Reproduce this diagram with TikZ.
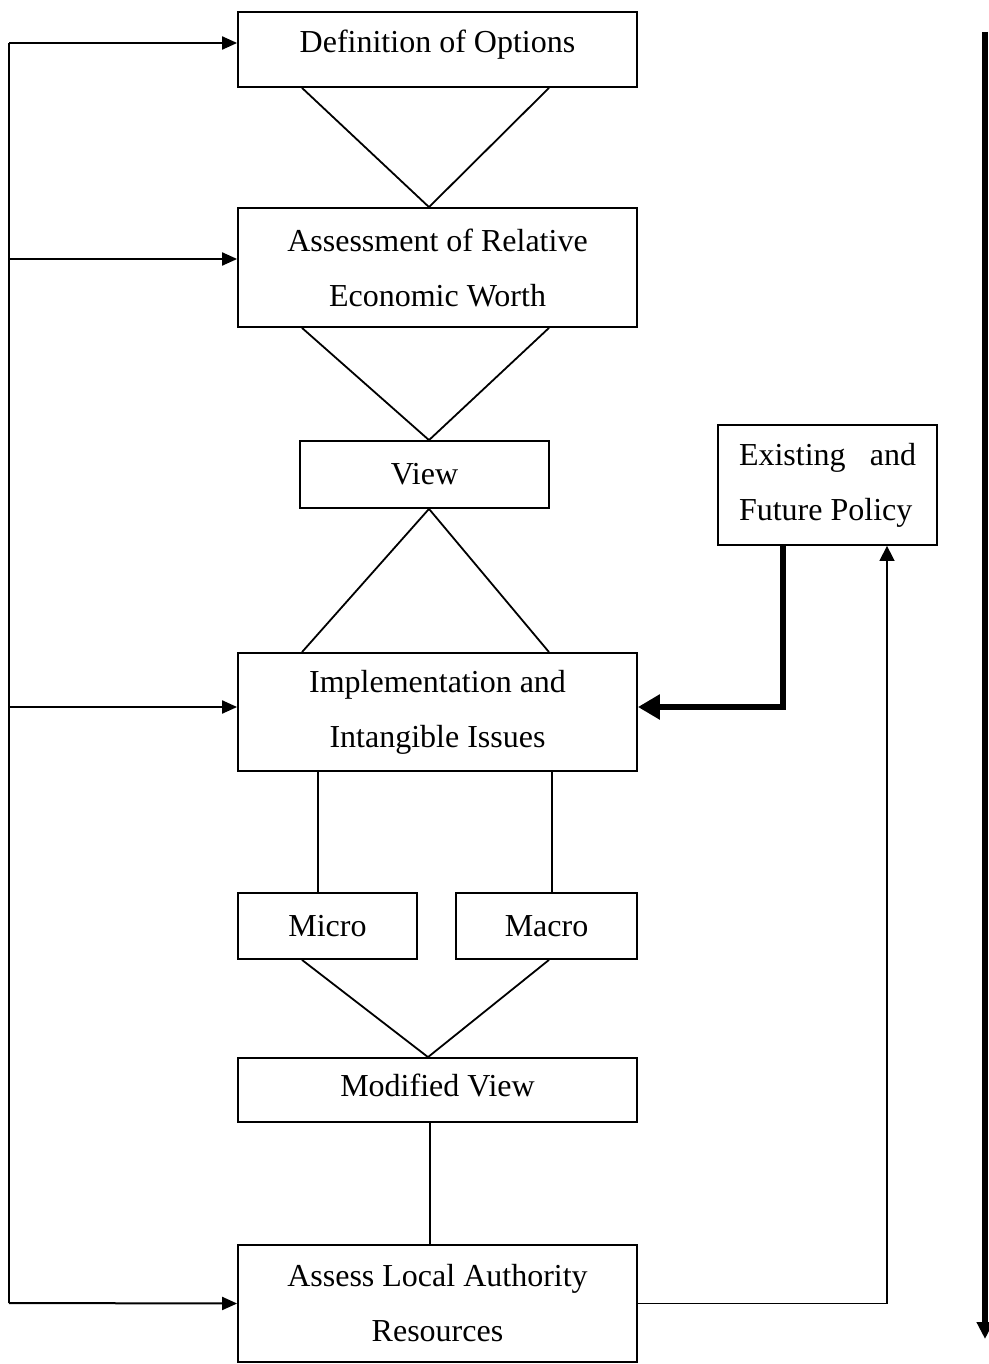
\documentclass[tikz,border=0pt]{standalone}
\usepackage{fontspec}
\setmainfont{Liberation Serif}
\usetikzlibrary{arrows.meta}
\begin{document}
\begin{tikzpicture}[x=1pt,y=-1pt,
  box/.style={draw, line width=1.8pt, inner sep=0pt, align=center,
    font=\fontsize{32}{55}\selectfont},
  link/.style={line width=1.8pt},
  fb/.style={line width=2pt, -{Triangle[length=15pt,width=13pt]}},
  loop/.style={line width=1.5pt, -{Triangle[length=15pt,width=15pt]}},
  policyarrow/.style={line width=6pt, -{Triangle[length=22pt,width=24pt]}},
  flow/.style={line width=6pt, -{Triangle[length=17pt,width=16pt]}}]
\useasboundingbox (0,0) rectangle (988,1364);

% boxes
\node[box, minimum width=399pt, minimum height=75pt, text depth=17pt] (def) at (437.5,49.5) {Definition of Options};
\node[box, minimum width=399pt, minimum height=119pt] (assess) at (437.5,267.5) {Assessment of Relative\\Economic Worth};
\node[box, minimum width=249pt, minimum height=67pt] (view) at (424.5,474.5) {View};
\node[box, minimum width=219pt, minimum height=120pt, align=left] (policy) at (827.5,485) {\makebox[177pt][s]{Existing and}\\Future Policy};
\node[box, minimum width=399pt, minimum height=118pt] (impl) at (437.5,712) {Implementation and\\Intangible Issues};
\node[box, minimum width=179pt, minimum height=66pt] (micro) at (327.5,926) {Micro};
\node[box, minimum width=181pt, minimum height=66pt] (macro) at (546.5,926) {Macro};
\node[box, minimum width=399pt, minimum height=64pt, text depth=10pt] (modv) at (437.5,1090) {Modified View};
\node[box, minimum width=399pt, minimum height=117pt] (local) at (437.5,1303.5) {Assess Local Authority\\Resources};

% funnels between the stages
\draw[link] ([xshift=-135.5pt]def.south) -- ([xshift=-8.5pt]assess.north);
\draw[link] ([xshift=111.5pt]def.south) -- ([xshift=-8.5pt]assess.north);
\draw[link] ([xshift=-135.5pt]assess.south) -- ([xshift=4.5pt]view.north);
\draw[link] ([xshift=111.5pt]assess.south) -- ([xshift=4.5pt]view.north);
\draw[link] ([xshift=4.5pt]view.south) -- ([xshift=-135.5pt]impl.north);
\draw[link] ([xshift=4.5pt]view.south) -- ([xshift=111.5pt]impl.north);
\draw[link] ([xshift=-119.5pt]impl.south) -- ([xshift=-9.5pt]micro.north);
\draw[link] ([xshift=114.5pt]impl.south) -- ([xshift=5.5pt]macro.north);
\draw[link] ([xshift=-25.5pt]micro.south) -- ([xshift=-9.5pt]modv.north);
\draw[link] ([xshift=2.5pt]macro.south) -- ([xshift=-9.5pt]modv.north);
\draw[link] ([xshift=-7.5pt]modv.south) -- ([xshift=-7.5pt]local.north);

% feedback bus on the left
\coordinate (fbTop) at (9,43);
\coordinate (fbBot) at (9,1303);
\coordinate (defIn) at ([yshift=6.5pt]def.west);
\coordinate (assessIn) at ([yshift=8.5pt]assess.west);
\coordinate (implIn) at ([yshift=5pt]impl.west);
\draw[link, line width=2pt] (fbTop) -- (fbBot);
\draw[fb] (fbTop) -- (defIn);
\draw[fb] (assessIn -| fbTop) -- (assessIn);
\draw[fb] (implIn -| fbTop) -- (implIn);
\draw[fb] (fbBot) -- (local.west);

% policy loop on the right
\coordinate (policyIn) at ([xshift=59.5pt]policy.south);
\coordinate (policyOut) at ([xshift=-44.5pt]policy.south);
\coordinate (implRight) at ([yshift=5pt]impl.east);
\draw[loop] (local.east) -| (policyIn);
\draw[policyarrow] (policyOut) |- (implRight);

% overall direction
\coordinate (flowTop) at (985,32);
\coordinate (flowBot) at (985,1339);
\draw[flow] (flowTop) -- (flowBot);
\end{tikzpicture}
\end{document}
